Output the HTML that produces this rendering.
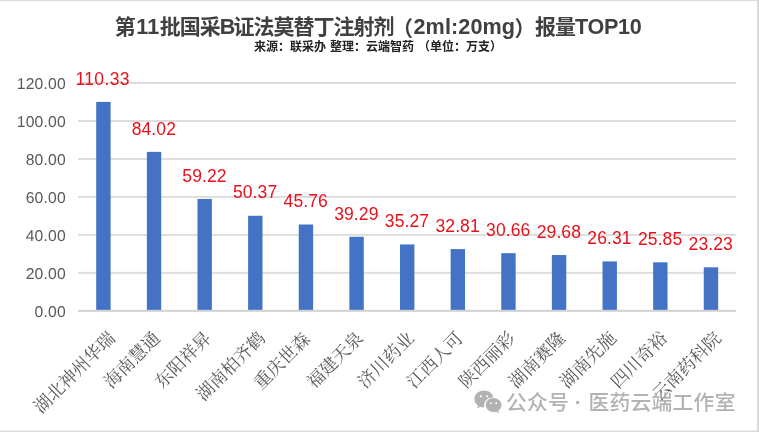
<!DOCTYPE html>
<html lang="zh-CN"><head><meta charset="utf-8"><title>第11批国采B证法莫替丁注射剂（2ml:20mg）报量TOP10</title>
<style>
html,body{margin:0;padding:0;background:#fff;}
body{width:759px;height:432px;position:relative;overflow:hidden;font-family:"Liberation Sans","Noto Sans CJK SC",sans-serif;}
.abs{position:absolute;}
.title{letter-spacing:-1px;white-space:nowrap;font-weight:700;color:#404040;line-height:30px;}
.l1,.l2,.l3,.l4{font-size:21.6px}.l1{margin-left:1.4px;letter-spacing:.32px}.l2{letter-spacing:-1.79px}.l3{letter-spacing:.1px}.l4{letter-spacing:-.33px}.pa{position:relative;top:1.8px;left:-1.5px}.pb{position:relative;top:1.8px;left:-.6px}
.sub{word-spacing:.7px;white-space:nowrap;font-weight:700;color:#222;line-height:20px;}
.yl{transform:rotate(.03deg);letter-spacing:.22px;color:#595959;text-align:right;width:70px;line-height:20px;white-space:nowrap;}
.dl{letter-spacing:.1px;color:#e8101a;text-align:center;white-space:nowrap;line-height:13.4px;height:13.4px;}
.xl{color:#595959;white-space:nowrap;text-align:right;transform-origin:100% 50%;transform:rotate(-45deg);font-family:"Liberation Serif","Noto Serif CJK SC",serif;font-weight:400;line-height:20px;height:20px;}
.wm{color:#adadad;white-space:nowrap;opacity:.93;}
</style></head><body>

<div class="abs title" style="left:114.8px;top:12px;font-size:21px">第<span class="l1">11</span>批国采<span class="l2">B</span>证法莫替丁注射剂<span class="pa">（</span><span class="l3">2ml:20mg</span><span class="pb">）</span>报量<span class="l4">TOP10</span></div>
<div class="abs sub" style="left:254px;top:37px;font-size:12px">来源：联采办 整理：云端智药 （单位：万支）</div>
<svg class="abs" style="left:0;top:0" width="759" height="432" viewBox="0 0 759 432"><rect x="78.0" y="309.85" width="658.19" height="2" fill="#d2d2d2"/><rect x="78.0" y="271.88" width="658.19" height="2" fill="#dedede"/><rect x="78.0" y="233.90" width="658.19" height="2" fill="#dedede"/><rect x="78.0" y="195.93" width="658.19" height="2" fill="#dedede"/><rect x="78.0" y="157.95" width="658.19" height="2" fill="#dedede"/><rect x="78.0" y="119.98" width="658.19" height="2" fill="#dedede"/><rect x="78.0" y="82.00" width="658.19" height="2" fill="#dedede"/><rect x="96.21" y="101.91" width="14.4" height="207.94" fill="#4472c4"/><rect x="146.84" y="151.87" width="14.4" height="157.98" fill="#4472c4"/><rect x="197.48" y="198.96" width="14.4" height="110.89" fill="#4472c4"/><rect x="248.11" y="215.76" width="14.4" height="94.09" fill="#4472c4"/><rect x="298.74" y="224.51" width="14.4" height="85.34" fill="#4472c4"/><rect x="349.37" y="236.80" width="14.4" height="73.05" fill="#4472c4"/><rect x="400.00" y="244.43" width="14.4" height="65.42" fill="#4472c4"/><rect x="450.63" y="249.10" width="14.4" height="60.75" fill="#4472c4"/><rect x="501.26" y="253.18" width="14.4" height="56.67" fill="#4472c4"/><rect x="551.88" y="255.05" width="14.4" height="54.80" fill="#4472c4"/><rect x="602.51" y="261.44" width="14.4" height="48.41" fill="#4472c4"/><rect x="653.14" y="262.32" width="14.4" height="47.53" fill="#4472c4"/><rect x="703.77" y="267.29" width="14.4" height="42.56" fill="#4472c4"/><rect x="0" y="0" width="759" height="1" fill="#d9d9d9"/><rect x="0" y="430.6" width="759" height="1.4" fill="#d9d9d9"/><rect x="757" y="0" width="2" height="432" fill="#d9d9d9"/></svg>
<div class="abs yl" style="left:-3.7px;top:301.75px;font-size:15.7px">0.00</div>
<div class="abs yl" style="left:-3.7px;top:263.77px;font-size:15.7px">20.00</div>
<div class="abs yl" style="left:-3.7px;top:225.80px;font-size:15.7px">40.00</div>
<div class="abs yl" style="left:-3.7px;top:187.83px;font-size:15.7px">60.00</div>
<div class="abs yl" style="left:-3.7px;top:149.85px;font-size:15.7px">80.00</div>
<div class="abs yl" style="left:-3.7px;top:111.88px;font-size:15.7px">100.00</div>
<div class="abs yl" style="left:-3.7px;top:73.90px;font-size:15.7px">120.00</div>
<div class="abs dl" style="left:73.71px;top:72.61px;width:58px;font-size:17.5px;letter-spacing:.4px">110.33</div>
<div class="abs dl" style="left:129.84px;top:122.57px;width:48px;font-size:17.5px">84.02</div>
<div class="abs dl" style="left:180.48px;top:169.66px;width:48px;font-size:17.5px">59.22</div>
<div class="abs dl" style="left:231.11px;top:186.46px;width:48px;font-size:17.5px">50.37</div>
<div class="abs dl" style="left:281.74px;top:195.21px;width:48px;font-size:17.5px">45.76</div>
<div class="abs dl" style="left:332.37px;top:207.50px;width:48px;font-size:17.5px">39.29</div>
<div class="abs dl" style="left:383.00px;top:215.13px;width:48px;font-size:17.5px">35.27</div>
<div class="abs dl" style="left:433.63px;top:219.80px;width:48px;font-size:17.5px">32.81</div>
<div class="abs dl" style="left:484.26px;top:223.88px;width:48px;font-size:17.5px">30.66</div>
<div class="abs dl" style="left:534.88px;top:225.75px;width:48px;font-size:17.5px">29.68</div>
<div class="abs dl" style="left:585.51px;top:232.14px;width:48px;font-size:17.5px">26.31</div>
<div class="abs dl" style="left:636.14px;top:233.02px;width:48px;font-size:17.5px">25.85</div>
<div class="abs dl" style="left:686.77px;top:237.99px;width:48px;font-size:17.5px">23.23</div>
<div class="abs xl" style="left:-188.28px;top:324.70px;width:300px;font-size:17.7px;letter-spacing:0px">湖北神州华瑞</div>
<div class="abs xl" style="left:-142.56px;top:324.70px;width:300px;font-size:17.7px;letter-spacing:0px">海南慧通</div>
<div class="abs xl" style="left:-91.93px;top:324.70px;width:300px;font-size:17.7px;letter-spacing:0px">东阳祥昇</div>
<div class="abs xl" style="left:-38.10px;top:324.70px;width:300px;font-size:17.7px;letter-spacing:0px">湖南柏齐鹤</div>
<div class="abs xl" style="left:7.33px;top:326.30px;width:300px;font-size:17.7px;letter-spacing:0px">重庆世森</div>
<div class="abs xl" style="left:59.96px;top:324.70px;width:300px;font-size:17.7px;letter-spacing:0px">福建天泉</div>
<div class="abs xl" style="left:110.60px;top:324.70px;width:300px;font-size:17.7px;letter-spacing:0px">济川药业</div>
<div class="abs xl" style="left:160.23px;top:325.20px;width:300px;font-size:17.7px;letter-spacing:0px">江西人可</div>
<div class="abs xl" style="left:211.86px;top:324.70px;width:300px;font-size:17.7px;letter-spacing:0px">陕西丽彩</div>
<div class="abs xl" style="left:262.49px;top:324.70px;width:300px;font-size:17.7px;letter-spacing:0px">湖南赛隆</div>
<div class="abs xl" style="left:313.12px;top:324.70px;width:300px;font-size:17.7px;letter-spacing:0px">湖南先施</div>
<div class="abs xl" style="left:363.75px;top:324.70px;width:300px;font-size:17.7px;letter-spacing:0px">四川奇裕</div>
<div class="abs xl" style="left:417.58px;top:324.70px;width:300px;font-size:17.7px;letter-spacing:0px">云南药科院</div>
<svg class="abs" style="left:473.6px;top:389.9px" width="28.4" height="24.7" viewBox="0 0 30 25" preserveAspectRatio="none">
<g fill="#b2b2b2"><path d="M10.6 0.6C4.9 0.6 0.4 4.4 0.4 9.1c0 2.7 1.5 5.1 3.8 6.7l-1 3 3.5-1.8c1.2 0.3 2.2 0.6 3.4 0.6 0.3 0 0.6 0 0.9-0.1-0.2-0.7-0.3-1.400-0.3-2.100 0-4.300 3.900-7.800 8.900-7.800 0.300 0 0.700 0 1 0.100C19.700 3.500 15.500 0.600 10.600 0.600z"/>
<path d="M29 15.300c0-3.900-3.900-7.100-8.300-7.100-4.700 0-8.300 3.200-8.300 7.100 0 3.900 3.700 7.100 8.300 7.100 1 0 2-0.200 2.900-0.500l2.700 1.500-0.700-2.400C27.500 19.600 29 17.600 29 15.300z"/></g>
<g fill="#fff"><circle cx="7.200" cy="6.400" r="1.150"/><circle cx="14" cy="6.400" r="1.150"/><circle cx="18" cy="13.300" r="1"/><circle cx="23.500" cy="13.300" r="1"/></g></svg>
<div class="abs wm" style="left:506px;top:389px;font-size:20.8px;letter-spacing:0.25px;line-height:28px;font-weight:500">公众号 <span style="position:relative;top:-0.8px;left:-0.5px;font-weight:700">·</span> 医药云端工作室</div>
</body></html>
